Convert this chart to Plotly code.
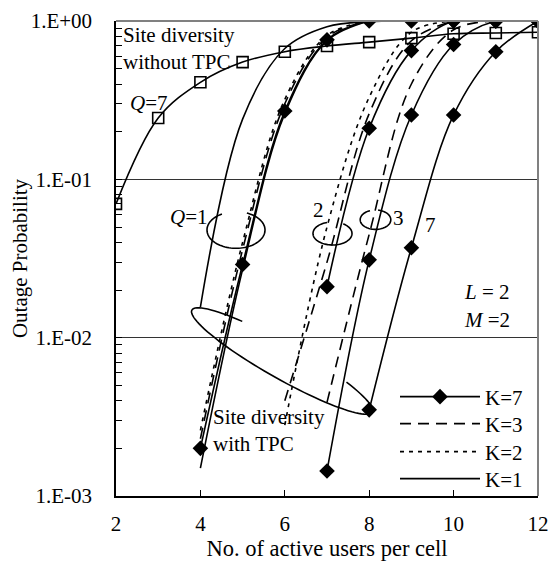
import numpy as np
import plotly.graph_objects as go

# ---------------- data ----------------
x_notpc = [2, 3, 4, 5, 6, 7, 8, 9, 10, 11, 12]
y_notpc_q7 = [0.070, 0.244, 0.41, 0.55, 0.64, 0.695, 0.736, 0.78, 0.83, 0.84, 0.85]

# Q = 1 group (with TPC)
x_q1_k1a = [4, 5, 6, 7, 8, 9, 10, 11, 12]
y_q1_k1a = [0.0156, 0.24, 0.67, 0.92, 0.99, 1.0, 1.0, 1.0, 1.0]
x_q1 = [4, 5, 6, 7, 8]
y_q1_k2 = [0.0026, 0.040, 0.32, 0.81, 1.0]
y_q1_k3 = [0.0023, 0.036, 0.30, 0.79, 1.0]
y_q1_k1 = [0.0015, 0.027, 0.26, 0.75, 1.0]
x_q1_k7 = [4, 5, 6, 7, 8, 9, 10, 11, 12]
y_q1_k7 = [0.0020, 0.029, 0.27, 0.76, 1.0, 1.0, 1.0, 1.0, 1.0]

# Q = 2 group
x_q2 = [6, 7, 8, 9, 10]
y_q2_k2 = [0.0028, 0.050, 0.33, 0.85, 1.0]
y_q2_k3 = [0.0040, 0.030, 0.26, 0.75, 1.0]
x_q2_k7 = [7, 8, 9, 10, 11, 12]
y_q2_k7 = [0.021, 0.21, 0.65, 1.0, 1.0, 1.0]

# Q = 3 group
x_q3_k3 = [7, 8, 9, 10, 11]
y_q3_k3 = [0.0039, 0.045, 0.40, 0.88, 1.0]
x_q3_k7 = [7, 8, 9, 10, 11, 12]
y_q3_k7 = [0.00144, 0.031, 0.255, 0.71, 1.0, 1.0]

# Q = 7 group
x_q7_k7 = [8, 9, 10, 11, 12]
y_q7_k7 = [0.0035, 0.037, 0.255, 0.64, 1.0]

x_ticks = [2, 4, 6, 8, 10, 12]
y_ticks = [1e-3, 1e-2, 1e-1, 1.0]
y_ticktext = ["1.E-03", "1.E-02", "1.E-01", "1.E+00"]

FONT = "Liberation Serif, Times New Roman, serif"
BLACK = "#000000"

fig = go.Figure()

def add_line(x, y, dash="solid", marker=None, name=None, legend=None):
    kw = dict(x=x, y=y, mode="lines", line=dict(color=BLACK, width=1.6, dash=dash, shape="spline"),
              showlegend=legend is not None, hoverinfo="skip")
    if name:
        kw["name"] = name
    if legend is not None:
        kw["legend"] = legend
    if marker == "diamond":
        kw["mode"] = "lines+markers"
        kw["marker"] = dict(symbol="diamond", size=12, color=BLACK, line=dict(width=0))
    elif marker == "square":
        kw["mode"] = "lines+markers"
        kw["marker"] = dict(symbol="square-open", size=11, color=BLACK, line=dict(width=1.6))
    fig.add_trace(go.Scatter(**kw))

DASH3 = "11px,7px"
DOT2 = "4px,5px"

# site diversity without TPC
add_line(x_notpc, y_notpc_q7, marker="square")

# Q=1
add_line(x_q1_k1a, y_q1_k1a)
add_line(x_q1, y_q1_k2, dash=DOT2, name="K=2", legend="legend3")
add_line(x_q1, y_q1_k3, dash=DASH3, name="K=3", legend="legend2")
add_line(x_q1, y_q1_k1, name="K=1", legend="legend4")
add_line(x_q1_k7, y_q1_k7, marker="diamond", name="K=7", legend="legend")
# Q=2
add_line(x_q2, y_q2_k2, dash=DOT2)
add_line(x_q2, y_q2_k3, dash=DASH3)
add_line(x_q2_k7, y_q2_k7, marker="diamond")
# Q=3
add_line(x_q3_k3, y_q3_k3, dash=DASH3)
add_line(x_q3_k7, y_q3_k7, marker="diamond")
# Q=7
add_line(x_q7_k7, y_q7_k7, marker="diamond")

# ---------- decorations (ellipses) in paper coords from pixel geometry ----------
X0, X1, YB, YT = 116.0, 538.0, 496.0, 21.0
def px2paper(px, py):
    return (px - X0) / (X1 - X0), (YB - py) / (YB - YT)

def ellipse_path(cx, cy, a, b, t0, t1, phi=0.0, n=80):
    ts = np.radians(np.linspace(t0, t1, n))
    ph = np.radians(phi)
    pts = []
    for t in ts:
        x = cx + a * np.cos(t) * np.cos(ph) - b * np.sin(t) * np.sin(ph)
        y = cy + a * np.cos(t) * np.sin(ph) + b * np.sin(t) * np.cos(ph)
        pts.append(px2paper(x, y))
    return "M " + " L ".join(f"{p[0]:.4f},{p[1]:.4f}" for p in pts)

shapes = []
for (cx, cy, a, b, t0, t1, phi) in [
    (236, 230, 29, 18.3, -68, 241, 0),
    (332.5, 233.5, 19.5, 11.5, -57, 254, 0),
    (375.5, 219.7, 15.3, 9.7, -80, 249, 0),
    (282, 361, 103.5, 17.5, -50, 238.5, 29.5),
]:
    shapes.append(dict(type="path", xref="paper", yref="paper",
                       path=ellipse_path(cx, cy, a, b, t0, t1, phi),
                       line=dict(color=BLACK, width=1.6)))
# top and right frame (gray)
shapes.append(dict(type="line", xref="paper", yref="paper", x0=0, x1=1, y0=1, y1=1,
                   line=dict(color="#808080", width=2)))
shapes.append(dict(type="line", xref="paper", yref="paper", x0=1, x1=1, y0=0, y1=1,
                   line=dict(color="#808080", width=2)))

def ann(px, py, text, xanchor="center"):
    x, y = px2paper(px, py)
    return dict(x=x, y=y, xref="paper", yref="paper", text=text, showarrow=False,
                xanchor=xanchor, yanchor="middle", font=dict(family=FONT, size=21, color=BLACK),
                align="left")

annotations = [
    ann(121, 48, "Site diversity<br>without TPC", "left"),
    ann(149, 103, "<i>Q</i>=7"),
    ann(210, 217, "<i>Q</i>=1", "right"),
    ann(318, 210, "2"),
    ann(398, 218, "3"),
    ann(430, 225, "7"),
    ann(211, 430, "Site diversity<br>with TPC", "left"),
    ann(462, 292, "<i>L</i> = 2", "left"),
    ann(462, 320, "<i>M</i> =2", "left"),
]

def leg(py):
    _, y = px2paper(0, py)
    return dict(x=(395 - X0) / (X1 - X0), y=y, xanchor="left", yanchor="middle", itemwidth=80,
                bgcolor="rgba(0,0,0,0)", font=dict(family=FONT, size=21))

# page body has an 8px margin: shift the figure so the plot lands where the reference has it
fig.update_layout(
    width=548, height=558,
    margin=dict(l=108, r=18, t=13, b=70, autoexpand=False),
    paper_bgcolor="white", plot_bgcolor="white",
    font=dict(family=FONT, size=21, color=BLACK),
    shapes=shapes, annotations=annotations,
    legend=leg(397), legend2=leg(424), legend3=leg(452), legend4=leg(479),
    xaxis=dict(range=[2, 12], tickvals=x_ticks, showgrid=False, zeroline=False,
               showline=True, linecolor=BLACK, linewidth=1.5, ticks="inside", ticklen=6,
               tickcolor=BLACK, ticklabelstandoff=8, automargin=False,
               title=dict(text="No. of active users per cell", standoff=2,
                          font=dict(family=FONT, size=22.5))),
    yaxis=dict(type="log", range=[-3, 0], tickvals=y_ticks, ticktext=y_ticktext,
               showgrid=True, gridcolor="#333333", gridwidth=1, zeroline=False,
               showline=True, linecolor=BLACK, linewidth=1.5, ticks="inside", ticklen=6,
               tickcolor=BLACK, ticklabelstandoff=18, automargin=False,
               minor=dict(tickvals=[m * 10.0 ** e for e in (-3, -2, -1) for m in range(2, 10)],
                          ticks="inside", ticklen=6, tickcolor=BLACK, showgrid=False),
               title=dict(text="Outage Probability", standoff=0,
                          font=dict(family=FONT, size=21))),
)

fig.write_html("out.html")
